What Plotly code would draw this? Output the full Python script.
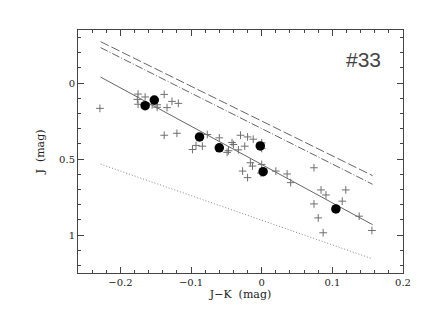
import plotly.graph_objects as go

# crosses (all stars)
star_jk = [-0.229, -0.175, -0.176, -0.165, -0.175, -0.155, -0.148, -0.148, -0.138, -0.127,
           -0.134, -0.118, -0.138, -0.120, -0.098, -0.093, -0.084, -0.077, -0.060, -0.049,
           -0.047, -0.042, -0.040, -0.033, -0.030, -0.024, -0.020, -0.012, -0.016, -0.013,
           -0.027, -0.020, 0.000, 0.000, -0.001, 0.000, 0.020, 0.036, 0.041, 0.074,
           0.074, 0.084, 0.091, 0.080, 0.087, 0.114, 0.119, 0.138, 0.156]
star_j = [0.166, 0.072, 0.107, 0.091, 0.139, 0.142, 0.142, 0.159, 0.074, 0.120,
          0.161, 0.133, 0.343, 0.330, 0.437, 0.410, 0.415, 0.338, 0.360, 0.456,
          0.445, 0.391, 0.404, 0.439, 0.343, 0.415, 0.354, 0.369, 0.524, 0.546,
          0.579, 0.622, 0.393, 0.430, 0.592, 0.535, 0.579, 0.598, 0.655, 0.557,
          0.795, 0.703, 0.736, 0.887, 0.985, 0.777, 0.703, 0.876, 0.970]

# filled dots
dot_jk = [-0.165, -0.152, -0.088, -0.060, -0.002, 0.002, 0.105]
dot_j = [0.148, 0.111, 0.354, 0.426, 0.413, 0.583, 0.828]

# reference lines (endpoints)
line_jk = [-0.228, 0.157]
solid_j = [-0.040, 0.932]
dash_j = [-0.273, 0.609]
dashdot_j = [-0.234, 0.666]
dot_line_j = [0.533, 1.157]

x_ticks = [-0.2, -0.1, 0, 0.1, 0.2]
x_labels = ["\u22120.2", "\u22120.1", "0", "0.1", "0.2"]
y_ticks = [0, 0.5, 1]
y_labels = ["0", "0.5", "1"]

fig = go.Figure()
lc = "#666666"
fig.add_trace(go.Scatter(x=line_jk, y=dash_j, mode="lines",
                         line=dict(color=lc, width=1, dash="9px,3px")))
fig.add_trace(go.Scatter(x=line_jk, y=dashdot_j, mode="lines",
                         line=dict(color=lc, width=1, dash="8px,2px,1px,2px")))
fig.add_trace(go.Scatter(x=line_jk, y=solid_j, mode="lines",
                         line=dict(color=lc, width=1)))
fig.add_trace(go.Scatter(x=line_jk, y=dot_line_j, mode="lines",
                         line=dict(color="#888888", width=1, dash="1px,2px")))
fig.add_trace(go.Scatter(x=star_jk, y=star_j, mode="markers",
                         marker=dict(symbol="cross-thin", size=5.5,
                                     line=dict(color="#707070", width=1))))
fig.add_trace(go.Scatter(x=dot_jk, y=dot_j, mode="markers",
                         marker=dict(symbol="circle", size=9.5, color="black")))

axcol = "#444444"
fig.update_layout(
    width=423, height=327,
    margin=dict(l=78, r=13, t=30, b=54),
    paper_bgcolor="white", plot_bgcolor="white",
    showlegend=False,
    font=dict(family="DejaVu Serif", size=10, color="#222222"),
    annotations=[dict(x=(390 - 78) / (423 - 78 - 13), y=(273 - 59) / (327 - 30 - 54),
                      xref="paper", yref="paper", text="#33",
                      showarrow=False, xanchor="right", yanchor="middle",
                      font=dict(family="Liberation Sans", size=21, color="#444444"))],
)
fig.update_xaxes(range=[-0.26, 0.2], tickvals=x_ticks, ticktext=x_labels,
                 ticks="inside", ticklen=6, tickcolor=axcol, tickwidth=1,
                 showline=True, linecolor=axcol, linewidth=1, mirror="ticks",
                 showgrid=False, zeroline=False,
                 minor=dict(dtick=0.02, tick0=0, ticks="inside", ticklen=3,
                            tickcolor=axcol, showgrid=False),
                 title=dict(text="J\u2212K  (mag)", standoff=3, font=dict(size=11)))
fig.update_yaxes(range=[1.25, -0.35], tickvals=y_ticks, ticktext=y_labels,
                 ticks="inside", ticklen=6, tickcolor=axcol, tickwidth=1,
                 showline=True, linecolor=axcol, linewidth=1, mirror="ticks",
                 showgrid=False, zeroline=False,
                 minor=dict(dtick=0.1, tick0=0, ticks="inside", ticklen=3,
                            tickcolor=axcol, showgrid=False),
                 title=dict(text="J  (mag)", standoff=12, font=dict(size=11)))
fig.write_html("out.html", config={"displayModeBar": False},
               post_script="document.body.style.margin='0';")
